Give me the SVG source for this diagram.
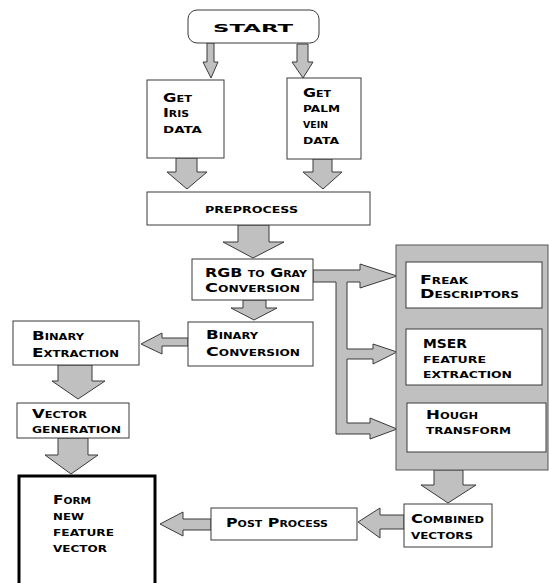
<svg xmlns="http://www.w3.org/2000/svg" width="549" height="583" viewBox="0 0 549 583">
<style>
.box{fill:#fff;stroke:#3a3a3a;stroke-width:1}
.arr{fill:#c0c0c0;stroke:#3a3a3a;stroke-width:1;stroke-linejoin:miter}
text{font-family:"DejaVu Sans","Liberation Sans",sans-serif;font-weight:bold;font-size:13px;font-variant:small-caps;fill:#000}
</style>
<rect width="549" height="583" fill="#fff"/>
<g id="connectors">
<polygon class="arr" points="207,43 214,43 214,62 218,62 211,78 203,62 207,62"/>
<polygon class="arr" points="297,44 308,44 308,62 313,62 303,78 292,62 297,62"/>
<polygon class="arr" points="176,158 197,158 197,172 207,172 187,189 167,172 176,172"/>
<polygon class="arr" points="313,159 332,159 332,172 342,172 323,189 303,172 313,172"/>
<polygon class="arr" points="238,225 269,225 269,242 284,242 253,258 223,242 238,242"/>
<polygon class="arr" points="243,300 266,300 266,308 277,308 254,320 231,308 243,308"/>
<polygon class="arr" points="188,338 162,338 162,333 141,344 162,354 162,346 188,346"/>
<polygon class="arr" points="58,365 92,365 92,381 105,381 78,399 52,381 58,381"/>
<polygon class="arr" points="58,438 88,438 88,455 98,455 71,474 45,455 58,455"/>
<polygon class="arr" points="211,519 183,519 183,512 160,524 183,536 183,530 211,530"/>
<polygon class="arr" points="404,515 380,515 380,508 358,522 380,538 380,529 404,529"/>
<polygon class="arr" points="434,470 463,470 463,485 476,485 448,503 421,485 434,485"/>
<polygon class="arr" points="313,270 360,270 360,264 397,276 360,288 360,282 347,282 347,349 373,349 373,344 397,352 373,364 373,359 347,359 347,423 370,423 370,418 397,429 370,439 370,434 336,434 336,282 313,282"/>
</g>
<g id="start">
<rect class="box" x="188" y="10" width="131" height="33" rx="9"/>
<text x="213" y="32" textLength="80" lengthAdjust="spacingAndGlyphs" style="font-size:10.5px">START</text>
</g>
<g id="get-iris">
<rect class="box" x="147" y="80" width="77" height="78"/>
<text x="163" y="102" textLength="29" lengthAdjust="spacingAndGlyphs">Get</text>
<text x="163" y="117" textLength="26" lengthAdjust="spacingAndGlyphs">Iris</text>
<text x="163" y="133" textLength="39" lengthAdjust="spacingAndGlyphs">data</text>
</g>
<g id="get-palm">
<rect class="box" x="287" y="78" width="74" height="81"/>
<text x="303" y="97" textLength="28" lengthAdjust="spacingAndGlyphs">Get</text>
<text x="303" y="112" textLength="37" lengthAdjust="spacingAndGlyphs">palm</text>
<text x="303" y="128" textLength="25" lengthAdjust="spacingAndGlyphs">vein</text>
<text x="303" y="144" textLength="36" lengthAdjust="spacingAndGlyphs">data</text>
</g>
<g id="preprocess">
<rect class="box" x="147" y="192" width="223" height="33"/>
<text x="205" y="213" textLength="93" lengthAdjust="spacingAndGlyphs">preprocess</text>
</g>
<g id="rgb-gray">
<rect class="box" x="192" y="259" width="121" height="41"/>
<text x="205" y="277" textLength="102" lengthAdjust="spacingAndGlyphs">RGB to Gray</text>
<text x="205" y="292" textLength="95" lengthAdjust="spacingAndGlyphs">Conversion</text>
</g>
<g id="binary-conversion">
<rect class="box" x="188" y="322" width="125" height="44"/>
<text x="206" y="339" textLength="52" lengthAdjust="spacingAndGlyphs">Binary</text>
<text x="206" y="356" textLength="94" lengthAdjust="spacingAndGlyphs">Conversion</text>
</g>
<g id="binary-extraction">
<rect class="box" x="13" y="321" width="126" height="44"/>
<text x="32" y="340" textLength="52" lengthAdjust="spacingAndGlyphs">Binary</text>
<text x="32" y="357" textLength="87" lengthAdjust="spacingAndGlyphs">Extraction</text>
</g>
<g id="vector-generation">
<rect class="box" x="17" y="403" width="112" height="35"/>
<text x="32" y="418" textLength="55" lengthAdjust="spacingAndGlyphs">Vector</text>
<text x="32" y="433" textLength="89" lengthAdjust="spacingAndGlyphs">generation</text>
</g>
<g id="form-feature-vector">
<rect x="19" y="476" width="136" height="112" fill="#fff" stroke="#000" stroke-width="3"/>
<text x="53" y="504" textLength="38" lengthAdjust="spacingAndGlyphs">Form</text>
<text x="53" y="520" textLength="31" lengthAdjust="spacingAndGlyphs">new</text>
<text x="53" y="536" textLength="61" lengthAdjust="spacingAndGlyphs">feature</text>
<text x="53" y="552" textLength="54" lengthAdjust="spacingAndGlyphs">vector</text>
</g>
<g id="post-process">
<rect class="box" x="211" y="508" width="146" height="32"/>
<text x="226" y="527" textLength="102" lengthAdjust="spacingAndGlyphs">Post Process</text>
</g>
<g id="combined-vectors">
<rect class="box" x="404" y="504" width="88" height="43"/>
<text x="411" y="523" textLength="73" lengthAdjust="spacingAndGlyphs">Combined</text>
<text x="411" y="539" textLength="62" lengthAdjust="spacingAndGlyphs">vectors</text>
</g>
<g id="feature-group">
<rect x="396" y="245" width="152" height="225" fill="#c0c0c0" stroke="#555" stroke-width="1"/>
</g>
<g id="freak">
<rect class="box" x="406" y="262" width="136" height="46"/>
<text x="420" y="284" textLength="48" lengthAdjust="spacingAndGlyphs">Freak</text>
<text x="420" y="298" textLength="99" lengthAdjust="spacingAndGlyphs">Descriptors</text>
</g>
<g id="mser">
<rect class="box" x="406" y="329" width="136" height="56"/>
<text x="423" y="348" textLength="44" lengthAdjust="spacingAndGlyphs">MSER</text>
<text x="423" y="363" textLength="63" lengthAdjust="spacingAndGlyphs">feature</text>
<text x="423" y="378" textLength="89" lengthAdjust="spacingAndGlyphs">extraction</text>
</g>
<g id="hough">
<rect class="box" x="407" y="403" width="139" height="49"/>
<text x="426" y="419" textLength="52" lengthAdjust="spacingAndGlyphs">Hough</text>
<text x="426" y="434" textLength="85" lengthAdjust="spacingAndGlyphs">transform</text>
</g>
</svg>
